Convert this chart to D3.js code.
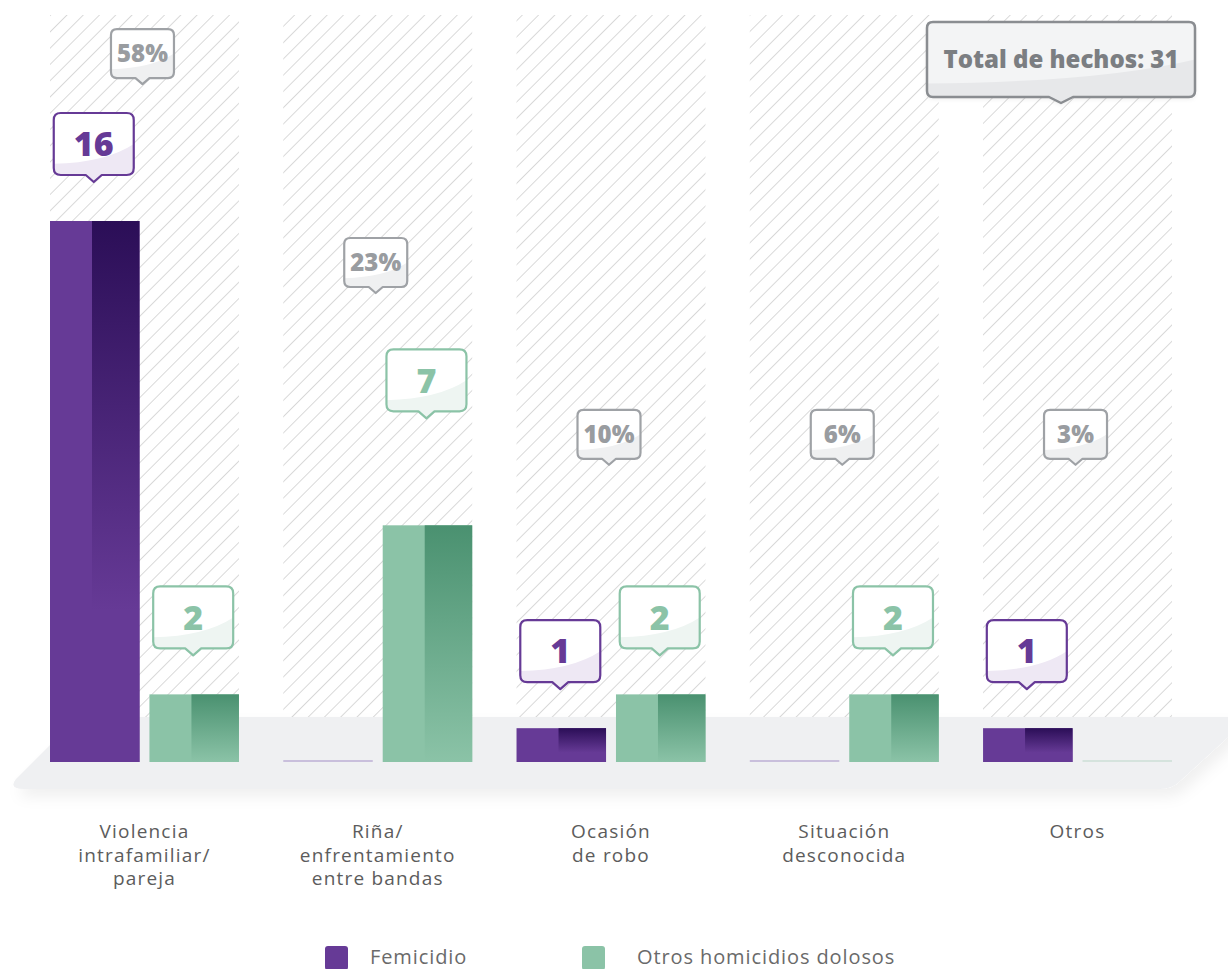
<!DOCTYPE html>
<html>
<head>
<meta charset="utf-8">
<script src="https://cdn.jsdelivr.net/npm/d3@7"></script>
<style>
  html, body { margin: 0; padding: 0; background: #ffffff; }
  svg { display: block; }
</style>
</head>
<body>
<svg id="chart" width="1228" height="969"></svg>
<script>
// ---------------- DATA ----------------
const categories = [
  "Violencia intrafamiliar/ pareja",
  "Riña/ enfrentamiento entre bandas",
  "Ocasión de robo",
  "Situación desconocida",
  "Otros"
];
const categoryLines = [
  ["Violencia", "intrafamiliar/", "pareja"],
  ["Riña/", "enfrentamiento", "entre bandas"],
  ["Ocasión", "de robo"],
  ["Situación", "desconocida"],
  ["Otros"]
];
const seriesNames = ["Femicidio", "Otros homicidios dolosos"];
const femicidio = [16, 0, 1, 0, 1];
const otrosHomicidios = [2, 7, 2, 2, 0];
const totalLabel = "Total de hechos: ";

// ---------------- STYLE / LAYOUT ----------------
const colors = {
  Femicidio: { base: "#663a96", dark: "#2b0e57", zero: "#c9bfdc", gloss: "#eee8f4", text: "#663a96" },
  "Otros homicidios dolosos": { base: "#8bc3a7", dark: "#4a9170", zero: "#d5e3dd", gloss: "#eef5f2", text: "#8bc3a7" }
};
const FONT = "'Open Sans', 'Liberation Sans', sans-serif";

const svg = d3.select("#chart");
const defs = svg.append("defs");

const rows = categories.map((c, i) => ({
  cat: c, lines: categoryLines[i],
  values: [
    { s: seriesNames[0], v: femicidio[i] },
    { s: seriesNames[1], v: otrosHomicidios[i] }
  ]
}));
const total = d3.sum(femicidio) + d3.sum(otrosHomicidios);

// scales
const x = d3.scaleBand().domain(categories).range([50, 1172]).paddingInner(0.19).paddingOuter(0);
const xs = d3.scaleBand().domain(seriesNames).range([0, x.bandwidth()]).paddingInner(0.1);
const y = d3.scaleLinear().domain([0, 16]).range([762, 221]);

// annotation placement
const valueGap = 39;                 // px between bar top and value callout tip
const valueLift = { 1: 68 };         // extra lift for the crowded category (index -> px)
const pctLevel = [20.05, 13.87, 8.79, 8.79, 8.79];  // tip level in y-data units

// ---------------- DEFS ----------------
const hatch = defs.append("pattern")
  .attr("id", "hatch").attr("patternUnits", "userSpaceOnUse")
  .attr("width", 11.5).attr("height", 11.5)
  .attr("patternTransform", "rotate(45)");
hatch.append("line").attr("x1", 0).attr("y1", -2).attr("x2", 0).attr("y2", 14)
  .attr("stroke", "#cdcdcd").attr("stroke-width", 1.5);

seriesNames.forEach((s, k) => {
  const g = defs.append("linearGradient").attr("id", "grad" + k)
    .attr("x1", 0).attr("y1", 0).attr("x2", 0).attr("y2", 1);
  g.append("stop").attr("offset", "0%").attr("stop-color", colors[s].dark);
  g.append("stop").attr("offset", k === 0 ? "72%" : "100%").attr("stop-color", colors[s].base);
  g.append("stop").attr("offset", "100%").attr("stop-color", colors[s].base);
});

const shadow = defs.append("filter").attr("id", "pshadow")
  .attr("x", "-10%").attr("y", "-30%").attr("width", "120%").attr("height", "180%");
shadow.append("feDropShadow").attr("dx", 6).attr("dy", 8).attr("stdDeviation", 7)
  .attr("flood-color", "#000").attr("flood-opacity", 0.06);

const boxShadow = defs.append("filter").attr("id", "bshadow")
  .attr("x", "-20%").attr("y", "-20%").attr("width", "140%").attr("height", "160%");
boxShadow.append("feDropShadow").attr("dx", 0).attr("dy", 2).attr("stdDeviation", 2)
  .attr("flood-color", "#000").attr("flood-opacity", 0.08);

// ---------------- HATCHED COLUMNS ----------------
svg.append("g").selectAll("rect").data(rows).join("rect")
  .attr("x", d => x(d.cat))
  .attr("y", 15)
  .attr("width", x.bandwidth())
  .attr("height", y(0) - 15)
  .attr("fill", "url(#hatch)");

// ---------------- PLATFORM ----------------
svg.append("path")
  .attr("d", "M78,717 L1250,717 L1180,781 Q1172,789 1160,789 L24,789 Q8,789 16,779 Z")
  .attr("fill", "#eff0f2")
  .attr("filter", "url(#pshadow)");

// ---------------- BARS ----------------
const groups = svg.append("g").selectAll("g").data(rows).join("g")
  .attr("transform", d => `translate(${x(d.cat)},0)`);

groups.each(function (d) {
  const g = d3.select(this);
  d.values.forEach((e, k) => {
    const bx = xs(e.s), bw = xs.bandwidth();
    if (e.v === 0) {
      g.append("rect").attr("x", bx).attr("y", y(0) - 2).attr("width", bw).attr("height", 2)
        .attr("fill", colors[e.s].zero);
      return;
    }
    g.append("rect").attr("x", bx).attr("y", y(e.v)).attr("width", bw)
      .attr("height", y(0) - y(e.v)).attr("fill", colors[e.s].base);
    const split = Math.round(bw * 0.47);
    g.append("rect").attr("x", bx + split).attr("y", y(e.v)).attr("width", bw - split)
      .attr("height", y(0) - y(e.v)).attr("fill", `url(#grad${k})`);
  });
});

// ---------------- CALLOUTS ----------------
let clipId = 0;
function bubblePath(cx, tipY, w, h, r, pw, ph) {
  const x0 = cx - w / 2, x1 = cx + w / 2, y1 = tipY - ph, y0 = y1 - h;
  return `M${x0 + r},${y0} H${x1 - r} Q${x1},${y0} ${x1},${y0 + r} V${y1 - r} Q${x1},${y1} ${x1 - r},${y1}` +
    ` H${cx + pw} L${cx},${tipY} L${cx - pw},${y1} H${x0 + r} Q${x0},${y1} ${x0},${y1 - r} V${y0 + r} Q${x0},${y0} ${x0 + r},${y0} Z`;
}
function callout(parent, o) {
  const g = parent.append("g");
  const d = bubblePath(o.cx, o.tipY, o.w, o.h, o.r || 7, o.pw || 8, o.ph || 7);
  const id = "clip" + (clipId++);
  defs.append("clipPath").attr("id", id).append("path").attr("d", d);
  const x0 = o.cx - o.w / 2, y0 = o.tipY - (o.ph || 7) - o.h;
  g.append("path").attr("d", d).attr("fill", o.fill || "#fff")
    .attr("filter", o.shadow ? "url(#bshadow)" : null);
  g.append("path")
    .attr("d", `M${x0},${y0 + o.h * 0.82} Q${x0 + o.w * 0.65},${y0 + o.h * 0.8} ${x0 + o.w},${y0 + o.h * 0.5} V${y0 + o.h + 10} H${x0} Z`)
    .attr("fill", o.gloss).attr("clip-path", `url(#${id})`);
  g.append("path").attr("d", d).attr("fill", "none")
    .attr("stroke", o.stroke).attr("stroke-width", o.sw || 2.2).attr("stroke-linejoin", "round");
  g.append("text").attr("x", o.cx).attr("y", y0 + o.h / 2)
    .attr("dy", "0.36em").attr("text-anchor", "middle")
    .attr("font-family", FONT).attr("font-weight", 800)
    .attr("font-size", o.fs).attr("fill", o.color).text(o.text);
}

const ann = svg.append("g");
// percent callouts
rows.forEach((d, i) => {
  const groupTotal = d3.sum(d.values, e => e.v);
  callout(ann, {
    cx: x(d.cat) + x.bandwidth() / 2 - 2,
    tipY: y(pctLevel[i]),
    w: 63, h: 49, r: 6, pw: 7, ph: 6,
    stroke: "#9fa2a6", gloss: "#eff0f1", color: "#999ca0",
    fs: 24, text: Math.round(groupTotal / total * 100) + "%"
  });
});
// value callouts
rows.forEach((d, i) => {
  d.values.forEach(e => {
    if (e.v === 0) return;
    const c = colors[e.s];
    callout(ann, {
      cx: x(d.cat) + xs(e.s) + xs.bandwidth() / 2 - 1,
      tipY: y(e.v) - valueGap - (e.s === seriesNames[1] && valueLift[i] ? valueLift[i] : 0),
      w: 80, h: 62, r: 7, pw: 8, ph: 7,
      stroke: c.base, gloss: c.gloss, color: c.text,
      fs: 34, text: String(e.v)
    });
  });
});
// total callout
callout(ann, {
  cx: 1061, tipY: 103, w: 268, h: 75, r: 6, pw: 12, ph: 6,
  stroke: "#8a8d91", fill: "#f3f4f5", gloss: "#e7e8ea", color: "#7b7e82",
  sw: 2.5, fs: 24, text: totalLabel + total, shadow: true
});

// ---------------- CATEGORY LABELS ----------------
const lab = svg.append("g");
rows.forEach(d => {
  const cx = x(d.cat) + x.bandwidth() / 2;
  d.lines.forEach((ln, j) => {
    lab.append("text")
      .attr("x", cx).attr("y", 838 + j * 23.5)
      .attr("text-anchor", "middle")
      .attr("font-family", FONT).attr("font-size", 19).attr("font-weight", 400)
      .attr("letter-spacing", 1.2)
      .attr("fill", "#5c5c5c")
      .text(ln);
  });
});

// ---------------- LEGEND ----------------
const legendX = [325, 582];
const legendTextX = [370, 637];
const leg = svg.append("g").selectAll("g").data(seriesNames).join("g");
leg.append("rect")
  .attr("x", (d, i) => legendX[i]).attr("y", 946)
  .attr("width", 23).attr("height", 24).attr("rx", 3)
  .attr("fill", d => colors[d].base);
leg.append("text")
  .attr("x", (d, i) => legendTextX[i]).attr("y", 964)
  .attr("font-family", FONT).attr("font-size", 20).attr("letter-spacing", 0.9)
  .attr("fill", "#6a6a6a").text(d => d);
</script>
</body>
</html>
